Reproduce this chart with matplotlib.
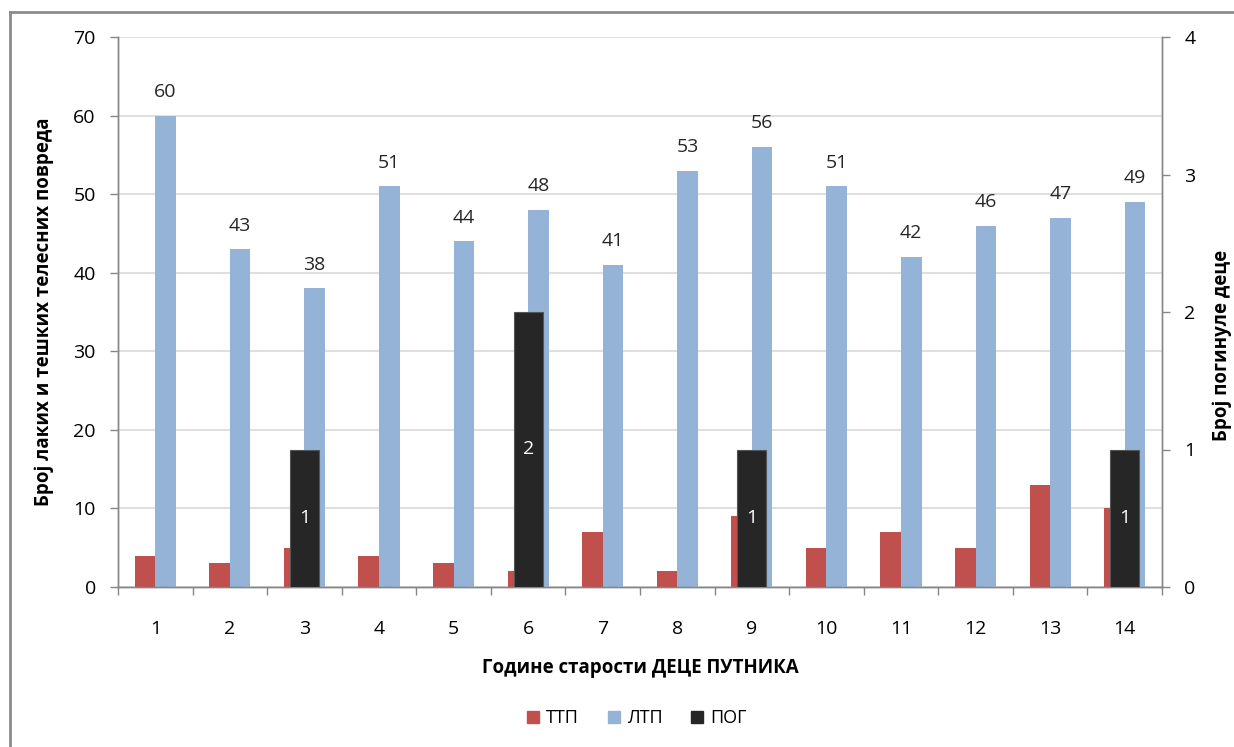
import matplotlib
matplotlib.use("Agg")
import matplotlib.pyplot as plt
from matplotlib.lines import Line2D
import numpy as np

plt.rcParams['font.family'] = ['Open Sans', 'DejaVu Sans']

categories = [str(i) for i in range(1, 15)]
ttp = [4, 3, 5, 4, 3, 2, 7, 2, 9, 5, 7, 5, 13, 10]
ltp = [60, 43, 38, 51, 44, 48, 41, 53, 56, 51, 42, 46, 47, 49]
pog = [0, 0, 1, 0, 0, 2, 0, 0, 1, 0, 0, 0, 0, 1]

red = '#C0504D'
blue = '#95B3D7'
black = '#262626'
axc = '#868686'

W, H = 1234, 747
fig = plt.figure(figsize=(W / 100, H / 100), dpi=100)
ax = fig.add_axes([118 / W, (H - 587) / H, (1162 - 118) / W, (587 - 37) / H])
ax2 = ax.twinx()

x = np.arange(len(categories))
bw = 0.275
ax.bar(x - bw / 2, ttp, bw, color=red, zorder=3, label='ТТП')
ax.bar(x + bw / 2, ltp, bw, color=blue, zorder=3, label='ЛТП')
for xi, v in zip(x, ltp):
    ax.text(xi + bw / 2, v + 3.0, str(v), ha='center', va='center', fontsize=14, color='#262626')

ax.set_xlim(-0.5, len(categories) - 0.5)
ax.set_ylim(0, 70)
ax.set_yticks(range(0, 71, 10))
ax.yaxis.grid(True, color='#D9D9D9', linewidth=1.2, zorder=0)
ax.set_axisbelow(True)
ax.set_xticks(x)
ax.set_xticklabels(categories, fontsize=14)
ax.set_xticks(np.arange(-0.5, len(categories)), minor=True)
ax.tick_params(axis='x', which='major', length=0, pad=24)
ax.tick_params(axis='x', which='minor', length=6, color=axc, width=1)
ax.tick_params(axis='y', length=6, color=axc, width=1, labelsize=14, pad=10)

ax2.bar(x, pog, 0.39, color=black, edgecolor='#555555', linewidth=0.8, zorder=4, label='ПОГ')
for xi, v in zip(x, pog):
    if v > 0:
        ax2.text(xi, v / 2, str(v), ha='center', va='center', fontsize=14, color='white', zorder=5)
ax2.set_ylim(0, 4)
ax2.set_yticks(range(0, 5))
ax2.tick_params(axis='y', length=6, color=axc, width=1, labelsize=14, pad=10)

for a in (ax, ax2):
    a.spines['top'].set_visible(False)
    for s in ['left', 'right', 'bottom']:
        a.spines[s].set_color(axc)
        a.spines[s].set_linewidth(1)

ax.set_ylabel('Број лаких и тешких телесних повреда', fontsize=13.5, fontweight='bold', labelpad=14)
fig.text(1222 / W, (H - 345) / H, 'Број погинуле деце', rotation=90, ha='center', va='center',
         fontsize=13.5, fontweight='bold')
ax.set_xlabel('Године старости ДЕЦЕ ПУТНИКА', fontsize=13.5, fontweight='bold', labelpad=14)

handles = [plt.Rectangle((0, 0), 1, 1, color=red), plt.Rectangle((0, 0), 1, 1, color=blue),
           plt.Rectangle((0, 0), 1, 1, color=black)]
fig.legend(handles, ['ТТП', 'ЛТП', 'ПОГ'], loc='center', bbox_to_anchor=(637 / W, (H - 718) / H),
           ncol=3, frameon=False, fontsize=13, handlelength=0.65, handleheight=0.65,
           handletextpad=0.4, columnspacing=1.6)

# outer border (top and left edges visible)
fig.add_artist(Line2D([10 / W, 1], [(H - 12) / H, (H - 12) / H], transform=fig.transFigure, color='#8C8C8C', linewidth=2))
fig.add_artist(Line2D([10 / W, 10 / W], [0, (H - 12) / H], transform=fig.transFigure, color='#8C8C8C', linewidth=2))

fig.savefig('out.png', dpi=100, facecolor='white')
